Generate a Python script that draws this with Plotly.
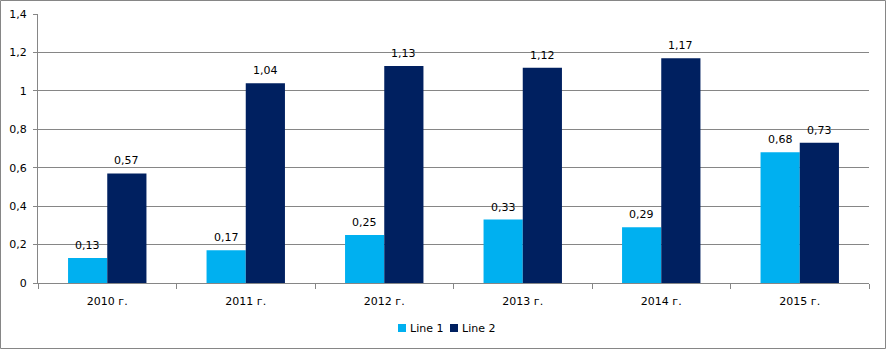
import plotly.graph_objects as go

categories = ["2010 г.", "2011 г.", "2012 г.", "2013 г.", "2014 г.", "2015 г."]
line1 = [0.13, 0.17, 0.25, 0.33, 0.29, 0.68]
line2 = [0.57, 1.04, 1.13, 1.12, 1.17, 0.73]
series_names = ["Line 1", "Line 2"]
colors = ["#00B0F0", "#002060"]

W, H = 886, 350
ml, mr, mt, mb = 38, 17, 14, 67
pw, ph = W - ml - mr, H - mt - mb

font = dict(family="DejaVu Sans, Verdana, sans-serif", size=11, color="#000000")

fig = go.Figure()
bar_w = 39.2  # px per bar
for i, (name, vals, c) in enumerate(zip(series_names, [line1, line2], colors)):
    fig.add_trace(go.Bar(
        x=categories, y=vals, name=name, marker=dict(color=c, line=dict(width=0)),
        showlegend=False,
    ))
    shift = (i - 0.5) * bar_w
    for cat, v in zip(categories, vals):
        fig.add_annotation(x=cat, y=v, xref="x", yref="y", text=f"{v:.2f}".replace(".", ","),
                           showarrow=False, xshift=shift, yanchor="bottom", yshift=4,
                           font=font)

# custom legend (text entries + colour keys)
leg_y = (283 - 328) / ph
leg_items = [(series_names[0], colors[0], 398), (series_names[1], colors[1], 450)]
shapes = []
for name, c, px in leg_items:
    x0 = (px - ml) / pw
    x1 = (px + 8 - ml) / pw
    shapes.append(dict(type="rect", xref="paper", yref="paper", x0=x0, x1=x1,
                       y0=leg_y - 4 / ph, y1=leg_y + 4 / ph,
                       line=dict(width=0), fillcolor=c))
    fig.add_annotation(x=(px + 10 - ml) / pw, y=leg_y, xref="paper", yref="paper",
                       text=name, showarrow=False, xanchor="left", yanchor="middle",
                       font=font)

shapes.append(dict(type="rect", xref="paper", yref="paper",
                   x0=(0.5 - ml) / pw, x1=(885.5 - ml) / pw,
                   y0=(283 - 348.5) / ph, y1=(283 - 0.5) / ph,
                   line=dict(color="#868686", width=1), fillcolor="rgba(0,0,0,0)", layer="below"))

fig.update_layout(
    width=W, height=H,
    margin=dict(l=ml, r=mr, t=mt, b=mb, autoexpand=False),
    paper_bgcolor="white", plot_bgcolor="white",
    barmode="group", bargap=0.434, bargroupgap=0,
    separators=", ",
    font=font,
    showlegend=False,
    xaxis=dict(showgrid=False, showline=True, linecolor="#868686", linewidth=1,
               ticks="outside", tickson="boundaries", ticklen=5, tickcolor="#868686",
               tickfont=font, ticklabelstandoff=8),
    yaxis=dict(range=[0, 1.4], dtick=0.2, showgrid=True, gridcolor="#868686", gridwidth=1,
               showline=True, linecolor="#868686", linewidth=1, ticks="outside",
               ticklen=4, tickcolor="#868686", tickfont=font, zeroline=False,
               ticklabelstandoff=4),
    shapes=shapes,
)

fig.write_html("out.html")
